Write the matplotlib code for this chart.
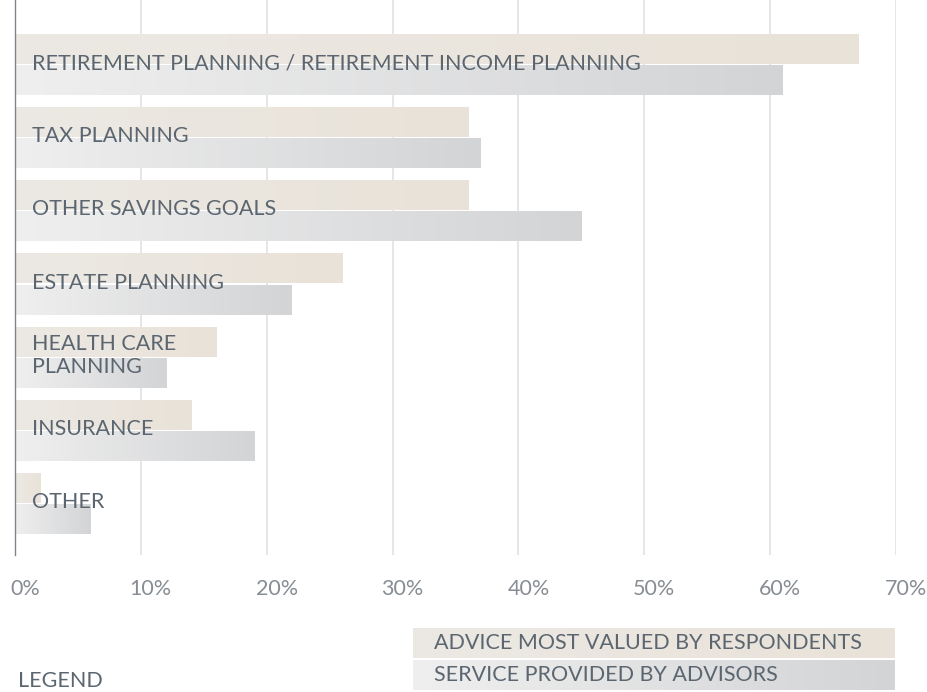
import numpy as np
import matplotlib.pyplot as plt
from matplotlib.colors import LinearSegmentedColormap
from matplotlib.transforms import ScaledTranslation

plt.rcParams['font.family'] = ['Lato', 'DejaVu Sans']

# Dados
categorias = ["RETIREMENT PLANNING / RETIREMENT INCOME PLANNING",
              "TAX PLANNING",
              "OTHER SAVINGS GOALS",
              "ESTATE PLANNING",
              "HEALTH CARE\nPLANNING",
              "INSURANCE",
              "OTHER"]
valorizado = [67, 36, 36, 26, 16, 14, 2]      # advice most valued by respondents
prestado = [61, 37, 45, 22, 12, 19, 6]        # service provided by advisors
xticks = [0, 10, 20, 30, 40, 50, 60, 70]
series = ["ADVICE MOST VALUED BY RESPONDENTS", "SERVICE PROVIDED BY ADVISORS"]

# Cores
cmap_tan = LinearSegmentedColormap.from_list("tan", ["#ece9e4", "#e9e2d8"])
cmap_cinza = LinearSegmentedColormap.from_list("cinza", ["#efefef", "#d3d4d6"])
cor_texto = "#5b6670"
cor_tick = "#878d93"
fs = 15.5
grad = np.linspace(0, 1, 256).reshape(1, -1)


def pinta_gradiente(ax, barras, cmap):
    for b in barras:
        x0, y0, w, h = b.get_x(), b.get_y(), b.get_width(), b.get_height()
        b.set_facecolor("none")
        ax.imshow(grad, cmap=cmap, extent=(x0, x0 + w, y0 + h, y0),
                  aspect="auto", interpolation="bilinear", zorder=3)


W, H = 928, 692
fig = plt.figure(figsize=(W / 100, H / 100), dpi=100)
ax = fig.add_axes([15 / W, (H - 555) / H, (896 - 15) / W, 555 / H])

y = np.arange(len(categorias))
alt = 0.41
desl = 0.212
b1 = ax.barh(y - desl, valorizado, height=alt, linewidth=0, zorder=3)
b2 = ax.barh(y + desl, prestado, height=alt, linewidth=0, zorder=3)
pinta_gradiente(ax, b1, cmap_tan)
pinta_gradiente(ax, b2, cmap_cinza)

for i, cat in enumerate(categorias):
    ax.text(1.35, i - 0.02, cat, ha="left", va="center", fontsize=fs,
            color=cor_texto, linespacing=1.2, zorder=4)

ax.set_xlim(0, 70)
ax.set_ylim(6.704, -0.8815)
ax.set_yticks([])
ax.set_xticks(xticks)
ax.set_xticklabels([f"{v}%" for v in xticks], fontsize=fs, color=cor_tick)
ax.tick_params(axis="x", length=0, pad=17)
desloc = ScaledTranslation(10 / 100, 0, fig.dpi_scale_trans)
for lab in ax.get_xticklabels():
    lab.set_transform(lab.get_transform() + desloc)

ax.grid(axis="x", color="#e2e2e2", linewidth=1.2, zorder=0)
ax.set_axisbelow(True)
for s in ["top", "right", "bottom"]:
    ax.spines[s].set_visible(False)
ax.spines["left"].set_color("#7f868c")
ax.spines["left"].set_linewidth(1)
ax.spines["left"].set_zorder(5)

# Legenda
lg = fig.add_axes([413 / W, (H - 690) / H, (895 - 413) / W, 62 / H])
lg.imshow(grad, cmap=cmap_tan, extent=(413, 895, 658, 628), aspect="auto")
lg.imshow(grad, cmap=cmap_cinza, extent=(413, 895, 690, 660), aspect="auto")
lg.set_xlim(413, 895)
lg.set_ylim(690, 628)
lg.axis("off")
lg.text(434, 643, series[0], ha="left", va="center", fontsize=fs, color=cor_texto)
lg.text(434, 675, series[1], ha="left", va="center", fontsize=fs, color=cor_texto)

fig.text(18 / W, 1 - 681 / H, "LEGEND", ha="left", va="center", fontsize=fs,
         color=cor_texto)

fig.savefig("out.png", dpi=100)
